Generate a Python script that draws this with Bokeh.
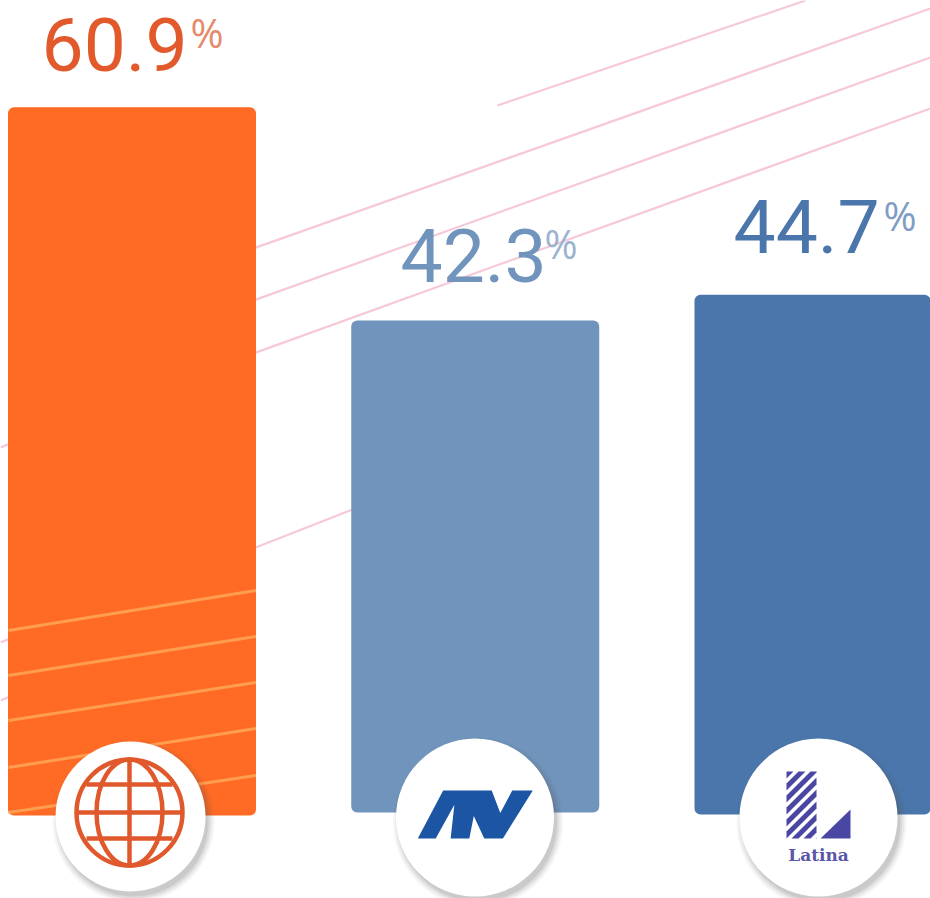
import numpy as np
from bokeh.embed import file_html
from bokeh.resources import INLINE
from bokeh.plotting import figure
from bokeh.models import Range1d
from bokeh.core.properties import value

channels = ["América", "ATV", "Latina"]
shares = [60.9, 42.3, 44.7]
bar_colors = ["#FF6A24", "#7094BB", "#4B76AB"]
label_colors = ["#E2592B", "#7094BB", "#4B76AB"]
pct_colors = ["#E58A6C", "#9AB3CF", "#7F9DC4"]

# page-pixel layout
X0, XS, Y0, YS = 131.5, 343.25, 815.0, 11.63
def X(px): return (np.asarray(px, dtype=float) - X0) / XS
def Y(py): return (Y0 - np.asarray(py, dtype=float)) / YS

p = figure(width=930, height=898, x_range=Range1d(float(X(0)), float(X(930))),
           y_range=Range1d(float(Y(898)), float(Y(0))), toolbar_location=None,
           output_backend="svg", min_border=0, outline_line_color=None,
           background_fill_color="white", border_fill_color="white")
p.axis.visible = False
p.grid.visible = False

# pink background lines
pink = [((497, 105), (805, 0)), ((250, 249), (930, 8)), ((250, 301), (930, 57)),
        ((250, 354), (930, 108)), ((250, 549), (352, 509)),
        ((0, 447), (12, 442)), ((0, 642), (12, 637)), ((0, 700), (12, 695))]
p.segment(X([a[0] for a, b in pink]), Y([a[1] for a, b in pink]),
          X([b[0] for a, b in pink]), Y([b[1] for a, b in pink]),
          line_color="#F6C8D8", line_width=2.2)

# bars
pos = [0, 1, 2]
bottoms = [float(Y(815)), float(Y(812)), float(Y(814))]
tops = [b + s for b, s in zip(bottoms, shares)]
p.vbar(x=pos, bottom=bottoms, top=tops, width=248 / XS, fill_color=bar_colors,
       line_color=None, border_radius=6)

# light stripes on first bar
st = [(630, 590), (675, 636), (720, 682), (767, 728), (812, 775)]
p.segment(X([8] * 5), Y([a for a, b in st]), X([255.5] * 5), Y([b for a, b in st]),
          line_color="#FF9E50", line_width=3)

# value labels
LAB, PCT = 75, 40
lab_x = [41, 400, 733]
lab_base = [70, 281, 252]
pct_x = [190, 544, 883]
pct_base = [47, 258, 230]
p.text(X(lab_x), Y(np.array(lab_base) - 0.341 * LAB), text=[f"{v}" for v in shares],
       text_color=label_colors, text_font=value("Roboto"),
       text_font_size=f"{LAB}px", text_baseline="alphabetic")
p.text(X(pct_x), Y(np.array(pct_base) - 0.385 * PCT), text=["%"] * 3, text_color=pct_colors,
       text_font=value("Open Sans"), text_font_size=f"{PCT}px", text_baseline="alphabetic")

# medallions with soft shadow
cx, cy, cr = [130, 474.5, 818], [816, 817, 817], [75, 79, 79]
for d, a in [(7, .05), (5, .07), (3, .10), (1, .12)]:
    p.scatter(X(np.array(cx) + 3), Y(np.array(cy) + 5), size=[2 * (r + d - 1) for r in cr],
              marker="circle", fill_color="#555555", fill_alpha=a, line_color=None)
p.scatter(X(cx), Y(cy), size=[2 * r for r in cr], marker="circle",
          fill_color="white", line_color=None)

# globe icon
gc = "#E0592C"
gx, gy, gr = 129, 812, 53
def ell(x, y, rx, ry):
    p.ellipse(float(X(x)), float(Y(y)), width=2 * rx / XS, height=2 * ry / YS,
              fill_color=None, line_color=gc, line_width=4.5)
ell(gx, gy, gr, gr)
ell(gx, gy, 33, gr)
for (xa, ya, xb, yb) in [(gx, gy - gr, gx, gy + gr), (gx - gr, gy, gx + gr, gy),
                         (gx - 43, 784, gx + 43, 784), (gx - 43, 838, gx + 43, 838)]:
    p.line(X([xa, xb]), Y([ya, yb]), line_color=gc, line_width=4.5)

# ATV logo outline
atv_x = [57, 105, 155, 145, 195, 207, 235, 285, 365, 310, 278, 255, 125]
atv_y = [160, 160, 70, 160, 160, 100, 160, 160, 32, 32, 92, 32, 32]
p.patch(X(396 + np.array(atv_x) * 0.3734), Y(778 + np.array(atv_y) * 0.375),
        fill_color="#1B55A3", line_color=None)

# Latina logo
lc = "#4A46A4"
def clip(poly, x0, x1, y0, y1):
    def cut(pts, inside, inter):
        out = []
        for i in range(len(pts)):
            a, b = pts[i], pts[(i + 1) % len(pts)]
            if inside(a):
                out.append(a)
            if inside(a) != inside(b):
                out.append(inter(a, b))
        return out
    def ix(v):
        return lambda a, b: (v, a[1] + (b[1] - a[1]) * (v - a[0]) / (b[0] - a[0]))
    def iy(v):
        return lambda a, b: (a[0] + (b[0] - a[0]) * (v - a[1]) / (b[1] - a[1]), v)
    for ins, it in [(lambda q: q[0] >= x0, ix(x0)), (lambda q: q[0] <= x1, ix(x1)),
                    (lambda q: q[1] >= y0, iy(y0)), (lambda q: q[1] <= y1, iy(y1))]:
        poly = cut(poly, ins, it)
        if not poly:
            break
    return poly
lx0, lx1, ly0, ly1 = 786, 816, 771, 838
xs, ys = [], []
for c in range(776, 880, 12):
    poly = clip([(lx0 - 5, c), (lx0 - 5, c + 7), (lx1 + 5, c + 7 - 40), (lx1 + 5, c - 40)],
                lx0, lx1, ly0, ly1)
    if poly:
        xs.append(X([q[0] for q in poly]))
        ys.append(Y([q[1] for q in poly]))
p.patches(xs, ys, fill_color=lc, line_color=None)
p.patch(X([850, 850, 820]), Y([809, 838, 838]), fill_color=lc, line_color=None)
p.text(float(X(818)), float(Y(861 - 0.38 * 17)), text=["Latina"], text_color="#5A56A8", text_align="center",
       text_font=value("DejaVu Serif"), text_font_style="bold", text_font_size="17px", text_baseline="alphabetic")

open("out.html", "w").write(file_html(p, INLINE))
